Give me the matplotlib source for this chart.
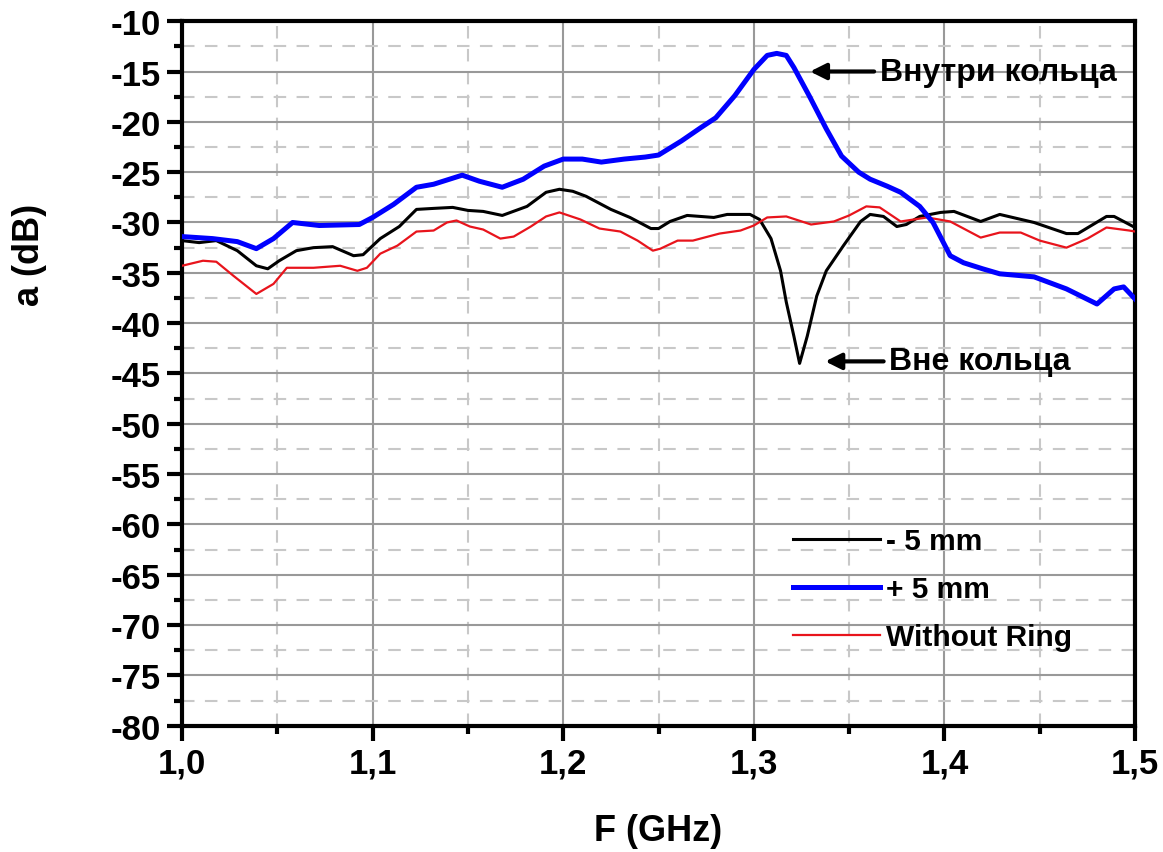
import matplotlib
matplotlib.use('Agg')
import matplotlib.pyplot as plt
from matplotlib.ticker import MultipleLocator, FuncFormatter

plt.rcParams['font.family'] = ['Liberation Sans', 'DejaVu Sans']
plt.rcParams['font.weight'] = 'bold'

# -5 mm (black)
f_minus = [1.000, 1.009, 1.018, 1.029, 1.039, 1.045, 1.051, 1.060, 1.069, 1.079,
           1.090, 1.095, 1.104, 1.114, 1.123, 1.132, 1.142, 1.150, 1.158, 1.168,
           1.181, 1.191, 1.198, 1.205, 1.212, 1.225, 1.235, 1.246, 1.250, 1.256,
           1.265, 1.279, 1.286, 1.298, 1.303, 1.309, 1.314, 1.317, 1.321, 1.324,
           1.328, 1.333, 1.338, 1.347, 1.356, 1.361, 1.368, 1.375, 1.380, 1.387,
           1.398, 1.405, 1.419, 1.429, 1.447, 1.464, 1.470, 1.485, 1.489, 1.500]
a_minus = [-31.8, -32.0, -31.8, -32.8, -34.3, -34.6, -33.8, -32.8, -32.5, -32.4,
           -33.3, -33.2, -31.6, -30.4, -28.7, -28.6, -28.5, -28.8, -28.9, -29.3,
           -28.4, -27.0, -26.7, -26.9, -27.4, -28.7, -29.5, -30.6, -30.6, -29.9,
           -29.3, -29.5, -29.2, -29.2, -29.7, -31.6, -34.8, -37.9, -41.3, -44.0,
           -41.3, -37.3, -34.8, -32.3, -29.9, -29.2, -29.4, -30.4, -30.2, -29.4,
           -29.0, -28.9, -29.9, -29.2, -30.0, -31.1, -31.1, -29.4, -29.4, -30.5]

# +5 mm (blue)
f_plus = [1.000, 1.016, 1.029, 1.039, 1.048, 1.058, 1.072, 1.093, 1.100, 1.111,
          1.123, 1.132, 1.142, 1.147, 1.156, 1.168, 1.179, 1.190, 1.200, 1.210,
          1.220, 1.232, 1.243, 1.250, 1.262, 1.272, 1.280, 1.290, 1.300, 1.307,
          1.312, 1.317, 1.321, 1.329, 1.338, 1.346, 1.355, 1.361, 1.370, 1.377,
          1.387, 1.394, 1.403, 1.410, 1.420, 1.429, 1.447, 1.464, 1.480, 1.489,
          1.494, 1.500]
a_plus = [-31.4, -31.6, -31.9, -32.6, -31.6, -30.0, -30.3, -30.2, -29.5, -28.2,
          -26.5, -26.2, -25.6, -25.3, -25.9, -26.5, -25.7, -24.4, -23.7, -23.7,
          -24.0, -23.7, -23.5, -23.3, -21.9, -20.6, -19.6, -17.4, -14.8, -13.4,
          -13.2, -13.4, -14.6, -17.4, -20.7, -23.4, -25.0, -25.7, -26.4, -27.0,
          -28.4, -30.0, -33.3, -34.0, -34.6, -35.1, -35.4, -36.6, -38.1, -36.6,
          -36.4, -37.6]

# Without ring (red)
f_ring = [1.000, 1.011, 1.018, 1.027, 1.039, 1.048, 1.055, 1.069, 1.083, 1.092,
          1.097, 1.104, 1.113, 1.123, 1.132, 1.139, 1.144, 1.151, 1.158, 1.167,
          1.174, 1.183, 1.191, 1.198, 1.209, 1.219, 1.230, 1.239, 1.247, 1.251,
          1.260, 1.268, 1.282, 1.293, 1.300, 1.307, 1.317, 1.330, 1.342, 1.350,
          1.359, 1.366, 1.377, 1.384, 1.391, 1.403, 1.419, 1.429, 1.440, 1.450,
          1.464, 1.475, 1.485, 1.497, 1.500]
a_ring = [-34.3, -33.8, -33.9, -35.3, -37.1, -36.1, -34.5, -34.5, -34.3, -34.8,
          -34.5, -33.1, -32.3, -30.9, -30.8, -30.0, -29.8, -30.4, -30.7, -31.6,
          -31.4, -30.4, -29.4, -29.0, -29.7, -30.6, -30.9, -31.8, -32.8, -32.6,
          -31.8, -31.8, -31.1, -30.8, -30.3, -29.5, -29.4, -30.2, -29.9, -29.3,
          -28.4, -28.5, -29.9, -29.7, -29.5, -29.9, -31.5, -31.0, -31.0, -31.8,
          -32.5, -31.6, -30.5, -30.8, -30.9]

fig = plt.figure(figsize=(11.63, 8.53), dpi=100)
ax = fig.add_axes([0.1565, 0.148, 0.8195, 0.826])

ax.plot(f_minus, a_minus, color='black', lw=2.2, label='- 5 mm', zorder=3)
ax.plot(f_plus, a_plus, color='#0000ff', lw=3.6, label='+ 5 mm', zorder=4)
ax.plot(f_ring, a_ring, color='#e8141c', lw=1.6, label='Without Ring', zorder=3)

ax.set_xlim(1.0, 1.5)
ax.set_ylim(-80, -10)
ax.xaxis.set_major_locator(MultipleLocator(0.1))
ax.xaxis.set_minor_locator(MultipleLocator(0.05))
ax.yaxis.set_major_locator(MultipleLocator(5))
ax.yaxis.set_minor_locator(MultipleLocator(2.5))
ax.xaxis.set_major_formatter(FuncFormatter(lambda v, p: f'{v:.1f}'.replace('.', ',')))
ax.yaxis.set_major_formatter(FuncFormatter(lambda v, p: f'{v:.0f}'))

ax.grid(which='major', color='#999999', lw=1.5, ls='-', zorder=0)
ax.grid(which='minor', color='#c8c8c8', lw=1.5, ls=(0, (6, 5)), zorder=0)
ax.set_axisbelow(True)

for s in ax.spines.values():
    s.set_linewidth(3)
ax.tick_params(which='major', direction='out', length=11, width=3, labelsize=25, pad=4)
ax.tick_params(which='minor', direction='out', length=6, width=3)

ax.set_xlabel('F (GHz)', fontsize=26, fontweight='bold', labelpad=24)
ax.set_ylabel('a (dB)', fontsize=26, fontweight='bold')
ax.yaxis.set_label_coords(-0.1417, 0.67)

ax.annotate('Внутри кольца', xy=(1.328, -15.0), xytext=(1.366, -15.0),
            fontsize=23, fontweight='bold', va='center', ha='left',
            arrowprops=dict(arrowstyle='-|>', color='black', lw=3, mutation_scale=24))
ax.annotate('Вне кольца', xy=(1.336, -43.8), xytext=(1.371, -43.8),
            fontsize=23, fontweight='bold', va='center', ha='left',
            arrowprops=dict(arrowstyle='-|>', color='black', lw=3, mutation_scale=24))

leg = ax.legend(loc='upper left', bbox_to_anchor=(0.641, 0.282), frameon=False,
                borderpad=0, borderaxespad=0, handlelength=2.9, handletextpad=0.23,
                labelspacing=0.67, prop={'weight': 'bold', 'size': 21.5})

fig.savefig('out.png', dpi=100)
